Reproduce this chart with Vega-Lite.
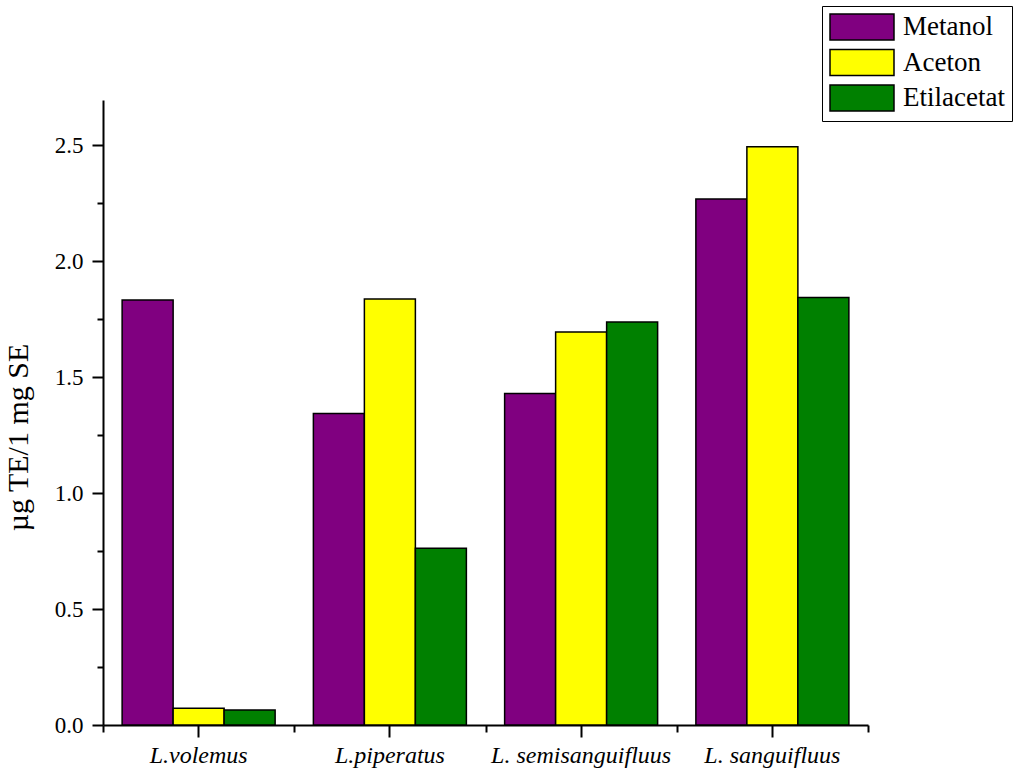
{
  "$schema": "https://vega.github.io/schema/vega-lite/v6.json",
  "width": 765,
  "height": 625,
  "autosize": {"type": "none"},
  "padding": {"left": 103, "top": 100, "right": 156, "bottom": 54},
  "background": "white",
  "config": {
    "view": {"stroke": null},
    "font": "Liberation Serif",
    "axis": {"grid": false, "domainColor": "black", "tickColor": "black", "labelColor": "black", "titleColor": "black", "labelFont": "Liberation Serif", "titleFont": "Liberation Serif", "domainWidth": 2, "tickWidth": 2}
  },
  "data": {
    "values": [
      {"species": "L.volemus", "solvent": "Metanol", "value": 1.832},
      {"species": "L.volemus", "solvent": "Aceton", "value": 0.072},
      {"species": "L.volemus", "solvent": "Etilacetat", "value": 0.065},
      {"species": "L.piperatus", "solvent": "Metanol", "value": 1.343},
      {"species": "L.piperatus", "solvent": "Aceton", "value": 1.836},
      {"species": "L.piperatus", "solvent": "Etilacetat", "value": 0.762},
      {"species": "L. semisanguifluus", "solvent": "Metanol", "value": 1.429},
      {"species": "L. semisanguifluus", "solvent": "Aceton", "value": 1.694},
      {"species": "L. semisanguifluus", "solvent": "Etilacetat", "value": 1.737},
      {"species": "L. sanguifluus", "solvent": "Metanol", "value": 2.267},
      {"species": "L. sanguifluus", "solvent": "Aceton", "value": 2.493},
      {"species": "L. sanguifluus", "solvent": "Etilacetat", "value": 1.843}
    ]
  },
  "layer": [
    {
      "mark": {"type": "bar", "stroke": "black", "strokeWidth": 1.5},
      "encoding": {
        "x": {
          "field": "species", "type": "nominal",
          "sort": ["L.volemus", "L.piperatus", "L. semisanguifluus", "L. sanguifluus"],
          "scale": {"paddingInner": 0, "paddingOuter": 0},
          "axis": {"orient": "bottom", "title": null, "labelAngle": 0, "labelFontSize": 24, "labelFontStyle": "italic", "labelLimit": 0, "tickSize": 12, "labelPadding": 6}
        },
        "xOffset": {
          "field": "solvent", "type": "nominal",
          "sort": ["Metanol", "Aceton", "Etilacetat"],
          "scale": {"paddingInner": 0, "paddingOuter": 0.375}
        },
        "y": {
          "field": "value", "type": "quantitative",
          "scale": {"domain": [0, 2.694], "nice": false, "zero": true},
          "axis": {"orient": "left", "title": "µg TE/1 mg SE", "titleFontSize": 30, "titleFontWeight": "normal", "titleAngle": 270, "titleAlign": "center", "titleBaseline": "alphabetic", "titleX": -76, "titleY": 337, "values": [0, 0.5, 1, 1.5, 2, 2.5], "format": ".1f", "labelFontSize": 23, "tickSize": 11, "labelPadding": 9}
        },
        "color": {
          "field": "solvent", "type": "nominal",
          "sort": ["Metanol", "Aceton", "Etilacetat"],
          "scale": {"domain": ["Metanol", "Aceton", "Etilacetat"], "range": ["#800080", "#FFFF00", "#008000"]},
          "legend": {
            "orient": "none", "legendX": 719, "legendY": -94, "title": null,
            "strokeColor": "black", "padding": 7,
            "symbolType": "M-1,-1H3.923V1H-1Z", "symbolSize": 676,
            "symbolStrokeColor": "black", "symbolStrokeWidth": 1.5, "symbolOpacity": 1,
            "labelFont": "Liberation Serif", "labelFontSize": 27, "labelColor": "black", "labelOffset": 46,
            "rowPadding": 3.5
          }
        }
      }
    },
    {
      "mark": {"type": "bar", "opacity": 0},
      "encoding": {
        "x": {
          "field": "species", "type": "nominal",
          "sort": ["L.volemus", "L.piperatus", "L. semisanguifluus", "L. sanguifluus"],
          "axis": {"orient": "bottom", "title": null, "labels": false, "domain": false, "tickBand": "extent", "tickSize": 7}
        },
        "y": {
          "field": "value", "type": "quantitative",
          "axis": {"orient": "left", "title": null, "labels": false, "domain": false, "values": [0.25, 0.75, 1.25, 1.75, 2.25], "tickSize": 6}
        }
      }
    }
  ],
  "resolve": {"axis": {"x": "independent", "y": "independent"}}
}
